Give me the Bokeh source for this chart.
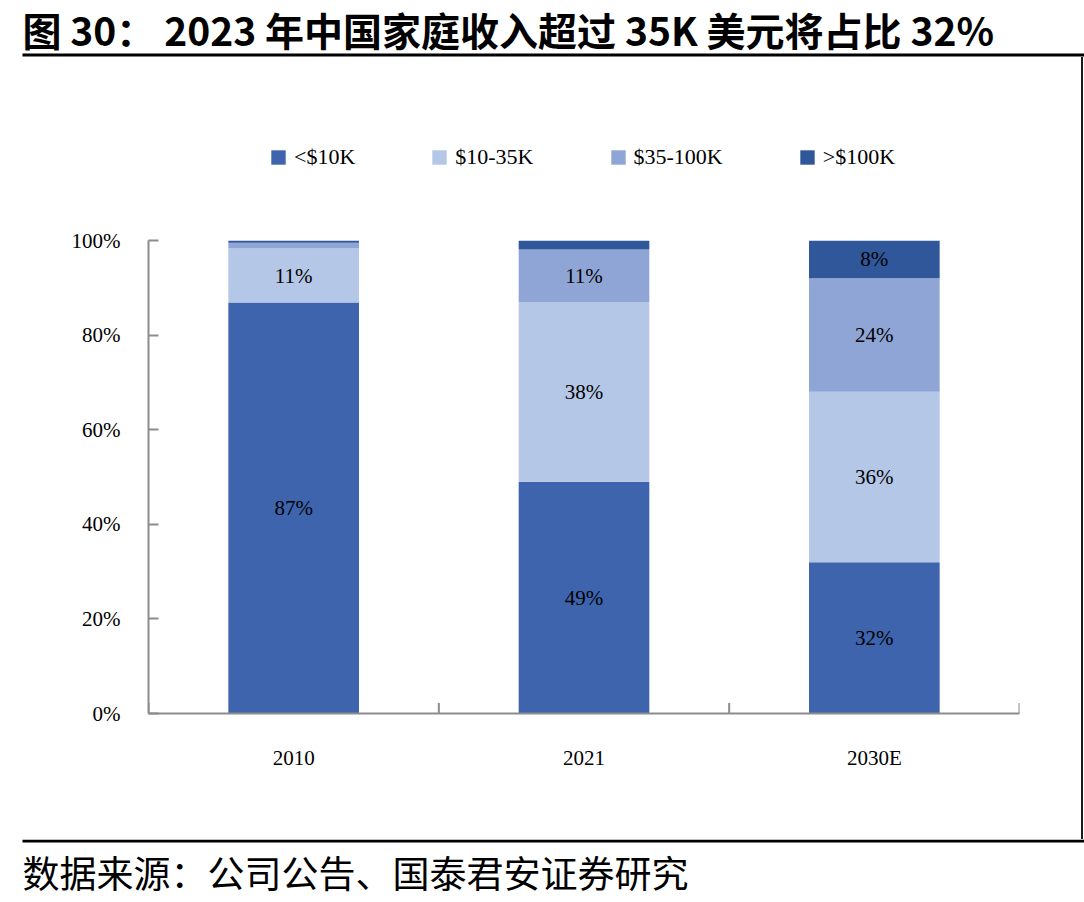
from bokeh.plotting import figure
from bokeh.layouts import column, row
from bokeh.models import (ColumnDataSource, FactorRange, Range1d, FixedTicker,
                          PrintfTickFormatter, LabelSet, Spacer)
from bokeh.transform import dodge
from bokeh.core.properties import value
from bokeh.embed import file_html
from bokeh.resources import INLINE

# ---- data ----
years = ["2010", "2021", "2030E"]
series = ["<$10K", "$10-35K", "$35-100K", ">$100K"]
lt10k = [86.9, 49.0, 32.0]
k10_35 = [11.4, 37.9, 36.0]
k35_100 = [1.2, 11.2, 24.0]
gt100k = [0.5, 1.9, 8.0]
y_ticks = [0, 20, 40, 60, 80, 100]
colors = ["#3D64AD", "#B4C7E7", "#8FA5D5", "#30579A"]
title_text = "图 30：   2023 年中国家庭收入超过 35K 美元将占比 32%"
source_text = "数据来源：公司公告、国泰君安证券研究"

keys = ["s0", "s1", "s2", "s3"]
src = ColumnDataSource(dict(year=years, s0=lt10k, s1=k10_35, s2=k35_100, s3=gt100k))

SERIF = "Liberation Serif"
CJK = "Noto Sans CJK SC"


def blank(w, h, xr=(0, 1), yr=(0, 1), bg="white"):
    f = figure(width=w, height=h, x_range=Range1d(*xr), y_range=Range1d(*yr),
               output_backend="svg", toolbar_location=None, min_border=0,
               x_axis_type=None, y_axis_type=None)
    f.outline_line_color = None
    f.background_fill_color = bg
    f.border_fill_color = bg
    f.xgrid.grid_line_color = None
    f.ygrid.grid_line_color = None
    return f


# ---- title strip ----
top = blank(1084, 57, xr=(0, 1084), yr=(57, 0))
top.text(x=[22], y=[28], text=[title_text], text_font=value(CJK),
         text_font_style="bold", text_font_size="39px", text_baseline="middle",
         text_color="black")
top.quad(left=[22], right=[1084], top=[53], bottom=[56], color="black", line_color=None)

# ---- legend strip (proxy renderers lie far outside the visible ranges) ----
leg = blank(1081, 120)
for s, c in zip(series, colors):
    leg.vbar(x=[-100], bottom=[-100], top=[-99], width=0.1, color=c, line_color=None,
             legend_label=s)
lg = leg.legend[0]
lg.orientation = "horizontal"
lg.location = (121, 7)
lg.padding = 0
lg.margin = 0
lg.spacing = 75
lg.label_standoff = 7
lg.glyph_width = 18
lg.glyph_height = 18
lg.label_height = 18
lg.border_line_color = None
lg.background_fill_alpha = 0
lg.label_text_font = SERIF
lg.label_text_font_size = "22px"
lg.label_text_color = "black"
lg.label_text_baseline = "middle"

# ---- main chart ----
p = figure(width=1081, height=662, x_range=FactorRange(*years, range_padding=0),
           y_range=Range1d(0, 100), output_backend="svg", toolbar_location=None,
           min_border_left=148, min_border_right=62, min_border_top=63,
           min_border_bottom=126)
p.outline_line_color = None
p.xgrid.grid_line_color = None
p.ygrid.grid_line_color = None

p.vbar_stack(keys, x="year", width=0.45, color=colors, source=src, line_color=None)

lx, ly, lt = [], [], []
for i, yr in enumerate(years):
    base = 0.0
    for arr in (lt10k, k10_35, k35_100, gt100k):
        v = arr[i]
        if v >= 5:
            lx.append(yr)
            ly.append(base + v / 2)
            lt.append("%d%%" % round(v))
        base += v
lsrc = ColumnDataSource(dict(x=lx, y=ly, t=lt))
p.add_layout(LabelSet(x="x", y="y", text="t", source=lsrc, text_align="center",
                      text_baseline="middle", text_font=value(SERIF),
                      text_font_size="21px", text_color="black"))

axis_col = "#8C8C8C"
p.yaxis.ticker = FixedTicker(ticks=y_ticks)
p.yaxis.formatter = PrintfTickFormatter(format="%d%%")
p.yaxis.axis_line_color = axis_col
p.yaxis.axis_line_width = 2
p.yaxis.major_tick_line_color = axis_col
p.yaxis.major_tick_line_width = 2
p.yaxis.major_tick_in = 10
p.yaxis.major_tick_out = 0
p.yaxis.minor_tick_line_color = None
p.yaxis.major_label_text_font = SERIF
p.yaxis.major_label_text_font_size = "21px"
p.yaxis.major_label_text_color = "black"
p.yaxis.major_label_standoff = 28

p.xaxis.axis_line_color = axis_col
p.xaxis.axis_line_width = 2
p.xaxis.major_tick_line_color = None
p.xaxis.major_label_text_font = SERIF
p.xaxis.major_label_text_font_size = "21px"
p.xaxis.major_label_text_color = "black"
p.xaxis.major_label_standoff = 26

p.segment(x0=dodge("year", -0.5, range=p.x_range), y0=0,
          x1=dodge("year", -0.5, range=p.x_range), y1=2.2,
          source=src, line_color=axis_col, line_width=2)
p.segment(x0=dodge("year", 0.5, range=p.x_range), y0=0,
          x1=dodge("year", 0.5, range=p.x_range), y1=2.2,
          source=ColumnDataSource(dict(year=years[-1:])), line_color=axis_col, line_width=2)

# ---- right border line ----
rline = Spacer(width=2, height=782, styles={"background-color": "#1A1A1A"})

# ---- footer strip ----
bot = blank(1084, 63, xr=(0, 1084), yr=(63, 0))
bot.quad(left=[22], right=[1084], top=[0], bottom=[3], color="black", line_color=None)
bot.text(x=[22], y=[32], text=[source_text], text_font=value(CJK),
         text_font_size="37px", text_baseline="middle", text_color="black")

layout = column(top, row(column(leg, p, spacing=0), rline, spacing=0), bot, spacing=0)
open("out.html", "w").write(file_html(layout, INLINE))
